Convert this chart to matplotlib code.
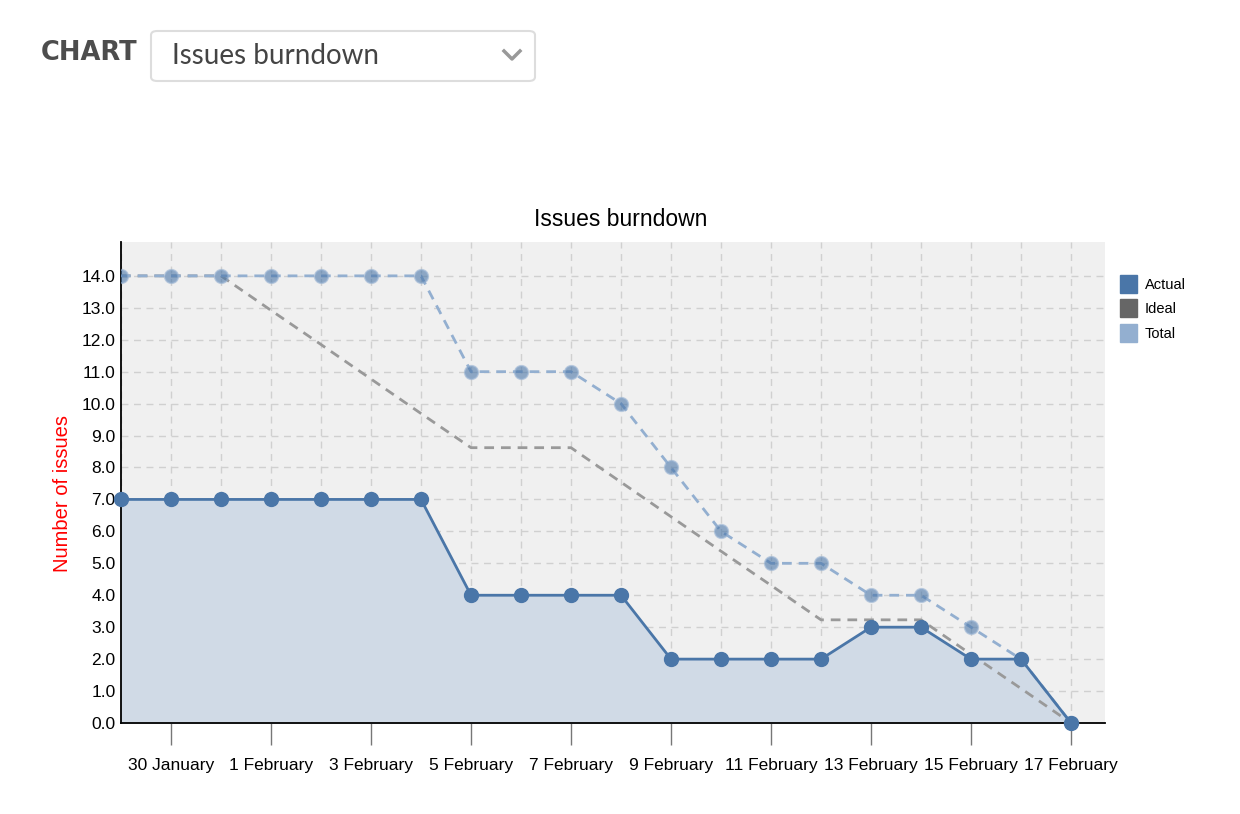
import matplotlib
matplotlib.use("Agg")
import matplotlib.pyplot as plt
from matplotlib.patches import FancyBboxPatch
from matplotlib.lines import Line2D
from matplotlib.patches import Patch

# ---- data ----
dates = ["29 January", "30 January", "31 January", "1 February", "2 February",
         "3 February", "4 February", "5 February", "6 February", "7 February",
         "8 February", "9 February", "10 February", "11 February", "12 February",
         "13 February", "14 February", "15 February", "16 February", "17 February"]
actual = [7, 7, 7, 7, 7, 7, 7, 4, 4, 4, 4, 2, 2, 2, 2, 3, 3, 2, 2, 0]
total = [14, 14, 14, 14, 14, 14, 14, 11, 11, 11, 10, 8, 6, 5, 5, 4, 4, 3, 2, 0]
ideal = [14, 14, 14, 12.92, 11.85, 10.77, 9.69, 8.62, 8.62, 8.62, 7.54, 6.46,
         5.38, 4.31, 3.23, 3.23, 3.23, 2.15, 1.08, 0]
y_ticks = [0, 1, 2, 3, 4, 5, 6, 7, 8, 9, 10, 11, 12, 13, 14]

c_actual = "#4a76a8"
c_ideal = "#666666"
c_total = "#93afd0"

plt.rcParams["font.family"] = ["Liberation Sans", "DejaVu Sans"]

fig = plt.figure(figsize=(12.4, 8.14), dpi=100)
ax = fig.add_axes([121 / 1240, 1 - 723 / 814, (1105 - 121) / 1240, (723 - 242) / 814])
ax.set_facecolor("#f0f0f0")

x = list(range(len(dates)))

# grid
ax.set_xticks(x, minor=True)
ax.set_yticks(y_ticks)
ax.set_yticklabels([f"{v:.1f}" for v in y_ticks])
ax.grid(True, which="both", axis="x", color="#d0d0d0", linestyle=(0, (5, 4)), linewidth=1)
ax.grid(True, which="major", axis="y", color="#d0d0d0", linestyle=(0, (5, 4)), linewidth=1)
ax.set_axisbelow(True)

# series
ax.fill_between(x, actual, 0, color="#d0dae6", zorder=1)
ax.plot(x, ideal, color="#999999", linestyle=(0, (3.5, 2.5)), linewidth=2, zorder=2)
ax.plot(x, total, color=c_total, linestyle=(0, (3.5, 2.5)), linewidth=2, zorder=3)
ax.plot(x, total, linestyle="none", marker="o", markersize=9.5,
        markerfacecolor=c_actual, markeredgecolor="#93afd0", markeredgewidth=1.5,
        alpha=0.6, zorder=3)
ax.plot(x, actual, color=c_actual, linewidth=2, marker="o", markersize=10, zorder=4,
        clip_on=False)

ax.set_xlim(0, 19.68)
ax.set_ylim(0, 15.06)

major = x[1::2]
ax.set_xticks(major)
ax.set_xticklabels([dates[i] for i in major])
ax.tick_params(axis="x", which="major", length=16, width=1, color="#777777",
               labelsize=12.5, pad=9)
ax.tick_params(axis="x", which="minor", length=0)
ax.tick_params(axis="y", length=0, labelsize=12.5, pad=4)

for s in ["top", "right"]:
    ax.spines[s].set_visible(False)
ax.spines["left"].set_linewidth(1.3)
ax.spines["bottom"].set_linewidth(1.3)

fig.text(621 / 1240, 1 - 220 / 814, "Issues burndown", fontsize=16.5,
         ha="center", va="center")
fig.text(62 / 1240, 1 - 493 / 814, "Number of issues", color="red", fontsize=14.5,
         rotation=90, ha="center", va="center")

handles = [Patch(color=c_actual), Patch(color=c_ideal), Patch(color=c_total)]
leg = fig.legend(handles, ["Actual", "Ideal", "Total"], loc="upper left",
                 bbox_to_anchor=(1107 / 1240, 1 - 262 / 814), frameon=False,
                 fontsize=10.5, handlelength=1.15, handleheight=1.5,
                 handletextpad=0.55, labelspacing=0.45)

# header
fig.text(41 / 1240, 1 - 53 / 814, "CHART", fontsize=18.5, fontweight="bold",
         color="#4d4d4d", va="center", ha="left", family=["DejaVu Sans"])
box = FancyBboxPatch((151 / 1240, 1 - 81 / 814), (535 - 151) / 1240, 50 / 814,
                     boxstyle="round,pad=0,rounding_size=0.005",
                     transform=fig.transFigure, facecolor="white",
                     edgecolor="#dddddd", linewidth=1.5)
fig.patches.append(box)
fig.text(172 / 1240, 1 - 56 / 814, "Issues burndown", fontsize=20, color="#444444",
         va="center", ha="left", family=["Lato", "DejaVu Sans"])
fig.lines.append(Line2D([504 / 1240, 512 / 1240, 520 / 1240],
                        [1 - 51 / 814, 1 - 59 / 814, 1 - 51 / 814],
                        transform=fig.transFigure, color="#999999", linewidth=2.5))

fig.savefig("out.png", dpi=100)
